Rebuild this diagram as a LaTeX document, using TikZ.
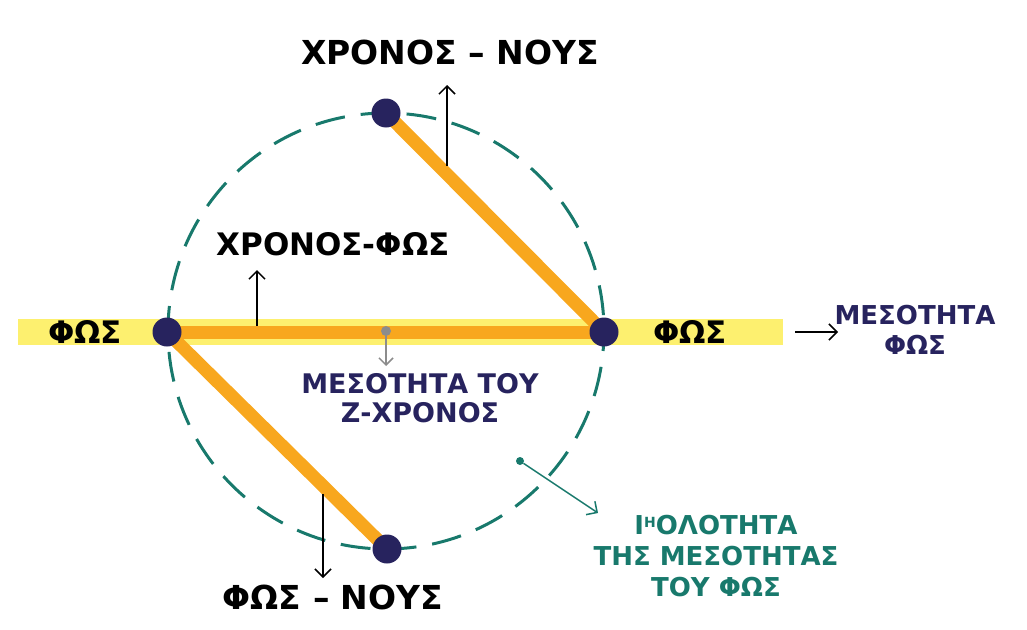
\documentclass[tikz,border=0pt]{standalone}
\usepackage{fontspec}
\setmainfont{DejaVu Sans}
\usetikzlibrary{arrows.meta}
\pgfdeclarelayer{background}
\pgfsetlayers{background,main}
\definecolor{bandyellow}{HTML}{FDF06F}
\definecolor{orangeline}{HTML}{F8A71E}
\definecolor{navy}{HTML}{27235E}
\definecolor{tealc}{HTML}{18796C}
\definecolor{grayc}{HTML}{8C8C8C}
\tikzset{
  dotnode/.style={circle,fill=navy,inner sep=0pt,minimum size=29pt},
  rod/.style={line width=13pt,orangeline},
  thinarrow/.style={line width=1.5pt,-{Straight Barb[length=8pt,width=16pt,line width=1.5pt]}},
  lab/.style={inner sep=0pt,align=center},
}
\newcommand{\fsz}[2]{\bfseries\fontsize{#1}{#2}\selectfont}
\begin{document}
\begin{tikzpicture}[x=1pt,y=-1pt]
\useasboundingbox (0,0) rectangle (1027,629);
% nodes
\node[dotnode] (T) at (386,113) {};
\node[dotnode] (L) at (167,332) {};
\node[dotnode] (R) at (604,332) {};
\node[dotnode] (B) at (387,549) {};
\begin{pgfonlayer}{background}
\fill[bandyellow] (18,319) rectangle (783,345);
\draw[tealc,line width=3pt,dash pattern=on 30pt off 16pt,dash phase=10pt] (386,331) circle (218);
\draw[rod] (L.center) -- (R.center);
\draw[rod] (T.center) -- (R.center);
\draw[rod] (L.center) -- (B.center);
\end{pgfonlayer}
% centre gray marker
\node[circle,fill=grayc,inner sep=0pt,minimum size=10pt] (M) at (386,331) {};
\coordinate (Mend) at (386,366);
\draw[grayc,line width=1.5pt,-{Straight Barb[length=7pt,width=14pt,line width=1.5pt]}] (M) -- (Mend);
% labels
\node[lab,font=\fsz{33}{38}] (top) at (450,52) {ΧΡΟΝΟΣ – ΝΟΥΣ};
\node[lab,font=\fsz{31}{36}] (cf) at (333,244) {ΧΡΟΝΟΣ-ΦΩΣ};
\node[lab,font=\fsz{31}{36}] (phl) at (85,332) {ΦΩΣ};
\node[lab,font=\fsz{31}{36}] (phr) at (690,332) {ΦΩΣ};
\node[lab,font=\fsz{26}{30},text=navy] (mes) at (915,330) {ΜΕΣΟΤΗΤΑ\\ΦΩΣ};
\node[lab,font=\fsz{27}{29},text=navy] (mid) at (420,398) {ΜΕΣΟΤΗΤΑ ΤΟΥ\\Ζ-ΧΡΟΝΟΣ};
\node[lab,font=\fsz{26}{31},text=tealc] (iso) at (716,556) {Ι\raisebox{7pt}{\fontsize{14}{14}\selectfont Η}ΟΛΟΤΗΤΑ\\ΤΗΣ ΜΕΣΟΤΗΤΑΣ\\ΤΟΥ ΦΩΣ};
\node[lab,font=\fsz{33}{38}] (fn) at (333,597) {ΦΩΣ – ΝΟΥΣ};
% arrows
\coordinate (a1s) at (447,166);
\coordinate (a1e) at (447,85);
\draw[thinarrow] (a1s) -- (a1e);
\coordinate (a2s) at (257,326);
\coordinate (a2e) at (257,270);
\draw[thinarrow] (a2s) -- (a2e);
\coordinate (a3s) at (323,494);
\coordinate (a3e) at (323,578);
\draw[thinarrow] (a3s) -- (a3e);
\coordinate (a4s) at (795,332);
\coordinate (a4e) at (838,332);
\draw[thinarrow] (a4s) -- (a4e);
\node[circle,fill=tealc,inner sep=0pt,minimum size=8pt] (td) at (520,461) {};
\coordinate (a5e) at (598,513);
\draw[tealc,thinarrow] (td) -- (a5e);
\end{tikzpicture}
\end{document}
